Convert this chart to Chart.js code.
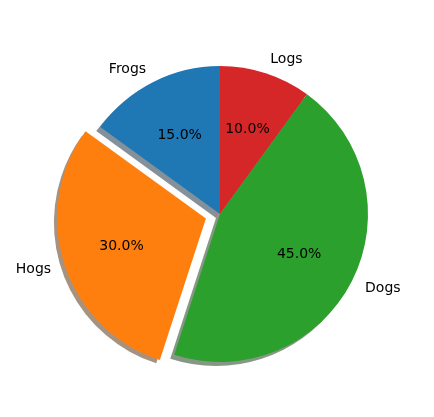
<!DOCTYPE html>
<html>
<head>
<meta charset="utf-8">
<script src="https://cdn.jsdelivr.net/npm/chart.js@4/dist/chart.umd.min.js"></script>
<style>
  html, body { margin: 0; padding: 0; background: #fff; }
  #wrap { width: 434px; height: 417px; position: relative; }
</style>
</head>
<body>
<div id="wrap"><canvas id="c" width="434" height="417"></canvas></div>
<script>
// ---- data (matplotlib order: counter-clockwise from top) ----
const categories = ['Frogs', 'Hogs', 'Dogs', 'Logs'];
const values = [15, 30, 45, 10];
const exploded = ['Hogs'];
const colors = ['#1f77b4', '#ff7f0e', '#2ca02c', '#d62728'];

// Chart.js draws clockwise, so reverse order to mimic counter-clockwise
const labelsCW = categories.slice().reverse();
const valuesCW = values.slice().reverse();
const colorsCW = colors.slice().reverse();

const R = 148;                 // desired pie radius in px
const EXPLODE_PX = 0.1 * R;    // matplotlib explode 0.1
const OFFSET = EXPLODE_PX * 4; // Chart.js v4 translates by offset/4
const offsetsCW = labelsCW.map(l => exploded.includes(l) ? OFFSET : 0);

const CX = 220, CY = 214;
const side = 2 * R + OFFSET;
const W = 434, H = 417;
const padL = CX - side / 2, padR = W - (CX + side / 2);
const padT = CY - side / 2, padB = H - (CY + side / 2);

function shadeColor(hex) {
  const n = parseInt(hex.slice(1), 16);
  const r = (n >> 16) & 255, g = (n >> 8) & 255, b = n & 255;
  return `rgba(${Math.round(r * 0.3)},${Math.round(g * 0.3)},${Math.round(b * 0.3)},0.5)`;
}

function arcGeom(el, i) {
  const p = el.getProps(['x', 'y', 'startAngle', 'endAngle', 'outerRadius']);
  const mid = (p.startAngle + p.endAngle) / 2;
  const t = (offsetsCW[i] || 0) / 4;
  return { x: p.x + Math.cos(mid) * t, y: p.y + Math.sin(mid) * t,
           r: p.outerRadius, s: p.startAngle, e: p.endAngle, mid };
}

const shadowPlugin = {
  id: 'pieShadow',
  beforeDatasetsDraw(chart) {
    const ctx = chart.ctx;
    const meta = chart.getDatasetMeta(0);
    ctx.save();
    meta.data.forEach((el, i) => {
      const g = arcGeom(el, i);
      const sx = g.x - 4, sy = g.y + 4;
      ctx.beginPath();
      ctx.moveTo(sx, sy);
      ctx.arc(sx, sy, g.r, g.s, g.e);
      ctx.closePath();
      ctx.fillStyle = shadeColor(colorsCW[i]);
      ctx.fill();
    });
    ctx.restore();
  }
};

const labelPlugin = {
  id: 'pieLabels',
  afterDatasetsDraw(chart) {
    const ctx = chart.ctx;
    const meta = chart.getDatasetMeta(0);
    const total = valuesCW.reduce((a, b) => a + b, 0);
    ctx.save();
    ctx.fillStyle = '#000';
    ctx.font = '14px "DejaVu Sans"';
    ctx.textBaseline = 'middle';
    meta.data.forEach((el, i) => {
      const g = arcGeom(el, i);
      const cos = Math.cos(g.mid), sin = Math.sin(g.mid);
      // category label at 1.1 r
      const lx = g.x + cos * g.r * 1.1, ly = g.y + sin * g.r * 1.1;
      ctx.textAlign = cos < 0 ? 'right' : 'left';
      ctx.fillText(labelsCW[i], lx, ly);
      // percentage at 0.6 r
      const px = g.x + cos * g.r * 0.6, py = g.y + sin * g.r * 0.6;
      ctx.textAlign = 'center';
      ctx.fillText((valuesCW[i] / total * 100).toFixed(1) + '%', px, py);
    });
    ctx.restore();
  }
};

new Chart(document.getElementById('c'), {
  type: 'pie',
  data: {
    labels: labelsCW,
    datasets: [{
      data: valuesCW,
      backgroundColor: colorsCW,
      borderWidth: 0,
      offset: offsetsCW,
      hoverOffset: 0
    }]
  },
  options: {
    responsive: false,
    animation: false,
    rotation: 0,
    layout: { padding: { left: padL, right: padR, top: padT, bottom: padB } },
    plugins: {
      legend: { display: false },
      tooltip: { enabled: false }
    },
    events: []
  },
  plugins: [shadowPlugin, labelPlugin]
});
</script>
</body>
</html>
